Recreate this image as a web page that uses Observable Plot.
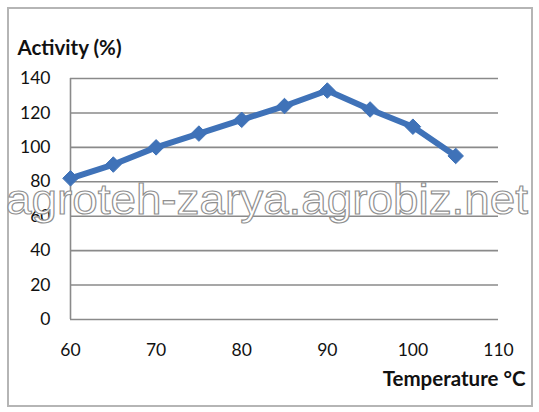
<!DOCTYPE html>
<html><head><meta charset="utf-8">
<script src="https://cdn.jsdelivr.net/npm/d3@7"></script>
<script src="https://cdn.jsdelivr.net/npm/@observablehq/plot@0.6"></script>
<style>
body{margin:0;background:#fff;}
#wrap{position:relative;width:539px;height:412px;overflow:hidden;}
#border{position:absolute;left:7px;top:7px;width:522px;height:396px;border:2px solid #b5b5b5;}
#wrap svg{position:absolute;left:0;top:0;}
</style></head>
<body><div id="wrap"><div id="border"></div></div>
<script>
const temperatures = [60, 65, 70, 75, 80, 85, 90, 95, 100, 105];
const activity = [82, 90, 100, 108, 116, 124, 133, 122, 112, 95];
const xTicks = [60, 70, 80, 90, 100, 110];
const yTicks = [0, 20, 40, 60, 80, 100, 120, 140];
const yTitle = "Activity (%)";
const xTitle = "Temperature \u00b0C";
const watermark = "agroteh-zarya.agrobiz.net";

const data = temperatures.map((t, i) => ({t, a: activity[i]}));
const blue = "#3f72b8";

const chart = Plot.plot({
  width: 539, height: 412,
  marginLeft: 70, marginRight: 41, marginTop: 78, marginBottom: 93,
  style: {fontFamily: "Lato, 'Open Sans', sans-serif", fontSize: "17.5px", color: "#111", background: "transparent"},
  x: {domain: [60, 110], ticks: xTicks, tickSize: 0, tickPadding: 24, label: null},
  y: {domain: [0, 140], ticks: yTicks, tickSize: 0, tickPadding: 20, label: null},
  marks: [
    Plot.ruleY(yTicks, {stroke: "#8a8a8a", strokeWidth: 1.6}),
    Plot.ruleX([60], {stroke: "#8a8a8a", strokeWidth: 1.6}),
    Plot.line(data, {x: "t", y: "a", stroke: blue, strokeWidth: 6, strokeLinejoin: "round"}),
    Plot.dot(data, {x: "t", y: "a", symbol: "diamond2", r: 7, fill: blue, stroke: blue, strokeWidth: 1}),
    Plot.text([yTitle], {frameAnchor: "top-left", dx: -53, dy: -38, text: d => d, textAnchor: "start", fontWeight: "bold", fontSize: 20.5, fill: "#111"}),
    Plot.text([xTitle], {frameAnchor: "bottom-right", dx: 27, dy: 66, text: d => d, textAnchor: "end", fontWeight: "bold", fontSize: 20.5, fill: "#111"})
  ]
});
document.getElementById("wrap").appendChild(chart);

d3.select(chart).append("text")
  .attr("x", 6).attr("y", 214)
  .attr("text-anchor", "start")
  .attr("textLength", 522).attr("lengthAdjust", "spacingAndGlyphs")
  .style("font-family", "'Liberation Sans', Arial, sans-serif")
  .style("font-size", "42px")
  .attr("fill", "#fff").attr("stroke", "#8f8f8f").attr("stroke-width", 1.1)
  .text(watermark);
</script></body></html>
